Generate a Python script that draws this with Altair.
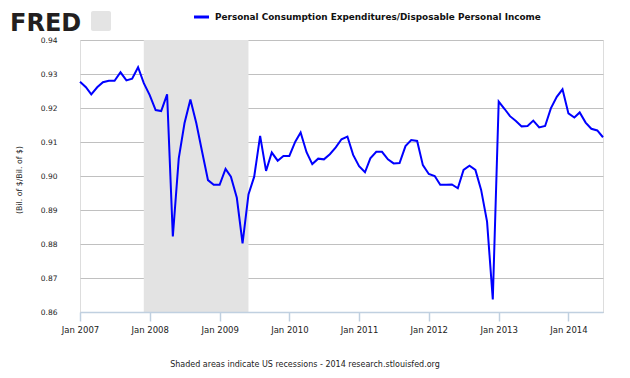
import altair as alt
import pandas as pd

# Monthly values, Jan 2007 .. Jul 2014
values = [
    0.9277, 0.9261, 0.9240, 0.9261, 0.9276, 0.9280, 0.9280, 0.9305, 0.9281, 0.9286, 0.9320, 0.9273,  # 2007
    0.9238, 0.9194, 0.9191, 0.9240, 0.8822, 0.9052, 0.9155, 0.9225, 0.9155, 0.9072, 0.8988, 0.8974,  # 2008
    0.8974, 0.9021, 0.8998, 0.8936, 0.8802, 0.8946, 0.8998, 0.9118, 0.9015, 0.9069, 0.9045, 0.9059,  # 2009
    0.9059, 0.9101, 0.9128, 0.9070, 0.9035, 0.9051, 0.9049, 0.9064, 0.9084, 0.9108, 0.9116, 0.9062,  # 2010
    0.9029, 0.9011, 0.9052, 0.9071, 0.9071, 0.9049, 0.9037, 0.9038, 0.9088, 0.9106, 0.9103, 0.9032,  # 2011
    0.9006, 0.9000, 0.8974, 0.8974, 0.8975, 0.8964, 0.9018, 0.9030, 0.9018, 0.8959, 0.8866, 0.8637,  # 2012
    0.9219, 0.9197, 0.9176, 0.9162, 0.9146, 0.9147, 0.9163, 0.9143, 0.9147, 0.9199, 0.9233, 0.9255,  # 2013
    0.9184, 0.9172, 0.9187, 0.9157, 0.9139, 0.9134, 0.9114,                                          # 2014
]
dates = pd.date_range("2007-01-01", periods=len(values), freq="MS").strftime("%Y-%m-%d").tolist()

recession_start = ["2007-12-01"]
recession_end = ["2009-06-01"]

y_ticks = [0.86, 0.87, 0.88, 0.89, 0.90, 0.91, 0.92, 0.93, 0.94]
x_ticks = ["2007-01-01", "2008-01-01", "2009-01-01", "2010-01-01", "2011-01-01",
           "2012-01-01", "2013-01-01", "2014-01-01"]

series_name = "Personal Consumption Expenditures/Disposable Personal Income"
y_title = "(Bil. of $/Bil. of $)"
footer = "Shaded areas indicate US recessions - 2014 research.stlouisfed.org"

df = pd.DataFrame({"date": dates, "value": values})
rec = pd.DataFrame({"start": recession_start, "end": recession_end})

x_scale = alt.Scale(domain=["2007-01-01", "2014-07-01"], nice=False)
y_scale = alt.Scale(domain=[0.86, 0.94], nice=False, zero=False)

x_axis = alt.Axis(
    values=[pd.Timestamp(v).isoformat() for v in x_ticks],
    format="%b %Y", title=None, grid=False, labelFlush=False, labelAlign="center",
    domainColor="#c0d0e0", tickColor="#c0d0e0", tickSize=9, domainWidth=1.5, tickWidth=1.5,
    labelFont="DejaVu Sans", labelFontSize=8.5, labelColor="#222", labelPadding=4, zindex=2,
)
y_axis = alt.Axis(
    values=y_ticks, format=".2f", title=None, domain=False, ticks=False,
    grid=True, gridColor="#c0c0c0", gridWidth=1,
    labelFont="DejaVu Sans", labelFontSize=7.5, labelColor="#222", labelPadding=23,
)

shade = alt.Chart(rec).mark_rect(color="#e3e3e3").encode(
    x=alt.X("start:T", scale=x_scale, axis=x_axis),
    x2="end:T",
)

line = alt.Chart(df).mark_line(color="#0000ff", strokeWidth=2).encode(
    x=alt.X("date:T", scale=x_scale, axis=x_axis),
    y=alt.Y("value:Q", scale=y_scale, axis=y_axis),
)

one = pd.DataFrame({"a": [0]})

logo = alt.Chart(one).mark_text(
    text="FRED", font="DejaVu Sans", fontWeight="bold", fontSize=24,
    align="left", baseline="alphabetic", color="#231f20",
).encode(x=alt.value(-70), y=alt.value(-9.5))

logo_icon = alt.Chart(one).mark_rect(color="#e4e4e4", cornerRadius=2).encode(
    x=alt.value(11), x2=alt.value(31), y=alt.value(-29), y2=alt.value(-9)
)

legend_line = alt.Chart(one).mark_rule(color="#0000ff", strokeWidth=3).encode(
    x=alt.value(114), x2=alt.value(129), y=alt.value(-23)
)
legend_text = alt.Chart(one).mark_text(
    text=series_name, font="DejaVu Sans", fontWeight="bold", fontSize=8.9,
    align="left", baseline="middle", color="#111",
).encode(x=alt.value(135), y=alt.value(-23))

ytitle = alt.Chart(one).mark_text(
    text=y_title, font="DejaVu Sans", fontSize=7.8, angle=270,
    align="center", baseline="middle", color="#222",
).encode(x=alt.value(-60), y=alt.value(140))

foot = alt.Chart(one).mark_text(
    text=footer, font="DejaVu Sans", fontSize=8,
    align="center", baseline="middle", color="#222",
).encode(x=alt.value(225), y=alt.value(325))

chart = alt.layer(
    shade, line, logo, logo_icon, legend_line, legend_text, ytitle, foot
).properties(
    width=523, height=272,
    autosize=alt.AutoSizeParams(type="none"),
    padding={"left": 72, "top": 32, "right": 19, "bottom": 58},
).configure_view(stroke=None).configure(background="white")

chart.save("out.html", embed_options={"renderer": "svg", "actions": False})
